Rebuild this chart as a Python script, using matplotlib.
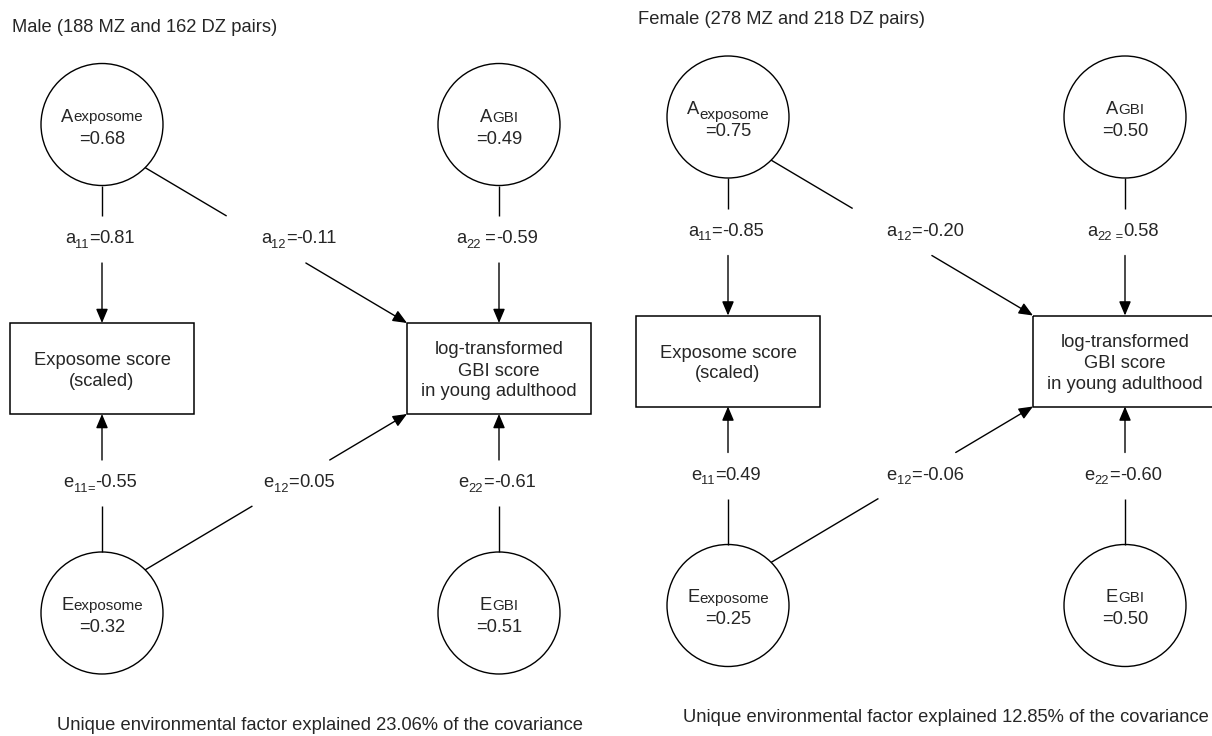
import matplotlib.pyplot as plt
from matplotlib.patches import Circle, Rectangle

plt.rcParams['font.family'] = ['Liberation Sans', 'DejaVu Sans']

# ---- values ----
titles = ["Male (188 MZ and 162 DZ pairs)", "Female (278 MZ and 218 DZ pairs)"]
# variance components: A_exposome, A_GBI, E_exposome, E_GBI
male_var = [0.68, 0.49, 0.32, 0.51]
female_var = [0.75, 0.50, 0.25, 0.50]
# path coefficients: a11, a12, a22, e11, e12, e22
male_path = [0.81, -0.11, -0.59, -0.55, 0.05, -0.61]
female_path = [-0.85, -0.20, 0.58, 0.49, -0.06, -0.60]
cov_pct = [23.06, 12.85]

path_letter = ["a", "a", "a", "e", "e", "e"]
path_sub = ["11", "12", "22", "11", "12", "22"]
node_names = [("A", "exposome"), ("A", "GBI"), ("E", "exposome"), ("E", "GBI")]
box_text = [["Exposome score", "(scaled)"],
            ["log-transformed", "GBI score", "in young adulthood"]]

# label quirks of the original (separator, separator set as subscript)
male_sep = [("=", 0), ("=", 0), (" =", 0), ("=", 1), ("=", 0), ("=", 0)]
female_sep = [("=", 0), ("=", 0), (" =", 1), ("=", 0), ("=", 0), ("=", 0)]

# ---- layout (pixels, male panel; female panel is shifted) ----
TXT = "#262626"
FS, FS_SMALL, FS_SUB = 13.2, 10.9, 9.3
R = 61
X_EXP, X_GBI = 102, 499
Y_A, Y_E = 124.5, 613
BOX_W, BOX_H, BOX_TOP = 184, 91, 323
GAP_A = (216, 263)
GAP_E = (506, 460)
LAB_A, LAB_E = 243, 487
LW = 1.0

fig = plt.figure(figsize=(12.12, 7.36), dpi=100)
ax = fig.add_axes([0, 0, 1, 1])
ax.set_xlim(0, 1212)
ax.set_ylim(736, 0)
ax.axis('off')
renderer = fig.canvas.get_renderer()


def rich(x, y, parts):
    """parts: (text, fontsize, drop) placed side by side, centred on x, baseline y+drop"""
    objs = [ax.text(0, y + d, s, fontsize=f, ha="left", va="baseline", color=TXT)
            for s, f, d in parts]
    widths = [t.get_window_extent(renderer).width for t in objs]
    x0 = x - sum(widths) / 2
    for t, w in zip(objs, widths):
        t.set_x(x0)
        x0 += w


def line(p, q):
    ax.plot([p[0], q[0]], [p[1], q[1]], color="black", lw=LW, solid_capstyle="butt")


def arrow(p, q):
    ax.annotate("", xy=q, xytext=p,
                arrowprops=dict(arrowstyle="-|>,head_length=0.85,head_width=0.36",
                                mutation_scale=10, color="black", lw=LW,
                                shrinkA=0, shrinkB=0))


def draw_panel(dx, dy, title, var, path, seps, pct, name_drop):
    ax.text(12 + dx, 32 + dy, title, fontsize=FS, ha="left", va="baseline", color=TXT)

    # latent factors
    centres = [(X_EXP, Y_A), (X_GBI, Y_A), (X_EXP, Y_E), (X_GBI, Y_E)]
    for (cx, cy), (big, small), v, drop in zip(centres, node_names, var, name_drop):
        cx, cy = cx + dx, cy + dy
        ax.add_patch(Circle((cx, cy), R, fill=False, ec="black", lw=LW))
        rich(cx, cy - 3, [(big, FS, 0), (small, FS_SMALL, drop)])
        rich(cx, cy + 19, [("=%.2f" % v, FS, 0)])

    # observed variables
    for bx, lines in zip([X_EXP, X_GBI], box_text):
        bx = bx + dx
        top = BOX_TOP + dy
        ax.add_patch(Rectangle((bx - BOX_W / 2, top), BOX_W, BOX_H,
                               fill=False, ec="black", lw=LW * 1.1))
        n = len(lines)
        for i, s in enumerate(lines):
            yb = top + BOX_H / 2 + 7 + (i - (n - 1) / 2) * 21
            ax.text(bx, yb, s, fontsize=FS, ha="center", va="baseline", color=TXT)

    box_top = BOX_TOP + dy
    box_bot = BOX_TOP + BOX_H + dy
    corner_top = (X_GBI - BOX_W / 2 + dx, box_top)
    corner_bot = (X_GBI - BOX_W / 2 + dx, box_bot)

    # vertical paths
    for x in [X_EXP + dx, X_GBI + dx]:
        line((x, Y_A + R + dy), (x, GAP_A[0] + dy))
        arrow((x, GAP_A[1] + dy), (x, box_top))
        arrow((x, GAP_E[1] + dy), (x, box_bot))
        line((x, GAP_E[0] + dy), (x, Y_E - R + dy))

    # cross paths from the exposome factors to GBI
    k = 0.7071 * R
    for start, end, gap in [((X_EXP + dx + k, Y_A + dy + k), corner_top, GAP_A),
                            ((X_EXP + dx + k, Y_E + dy - k), corner_bot, GAP_E)]:
        def at_y(yy):
            t = (yy - start[1]) / (end[1] - start[1])
            return (start[0] + t * (end[0] - start[0]), yy)
        line(start, at_y(gap[0] + dy))
        arrow(at_y(gap[1] + dy), end)

    # path labels
    lab_x = [X_EXP - 2, 299, X_GBI - 2, X_EXP - 2, 299, X_GBI - 2]
    lab_y = [LAB_A, LAB_A, LAB_A, LAB_E, LAB_E, LAB_E]
    for lx, ly, let, sub, (sep, low), val in zip(lab_x, lab_y, path_letter,
                                                 path_sub, seps, path):
        parts = [(let, FS, 0), (sub, FS_SUB, 5)]
        if low:
            parts.append((sep, FS_SUB, 5))
        else:
            parts.append((sep, FS, 0))
        parts.append(("%.2f" % val, FS, 0))
        rich(lx + dx, ly + dy, parts)

    rich(320 + dx, 730 + dy,
         [("Unique environmental factor explained %.2f%% of the covariance" % pct, FS, 0)])


draw_panel(0, 0, titles[0], male_var, male_path, male_sep, cov_pct[0], [0, 0, 0, 0])
draw_panel(626, -7.5, titles[1], female_var, female_path, female_sep, cov_pct[1], [5, 0, 0, 0])

fig.savefig("out.png", dpi=100)
